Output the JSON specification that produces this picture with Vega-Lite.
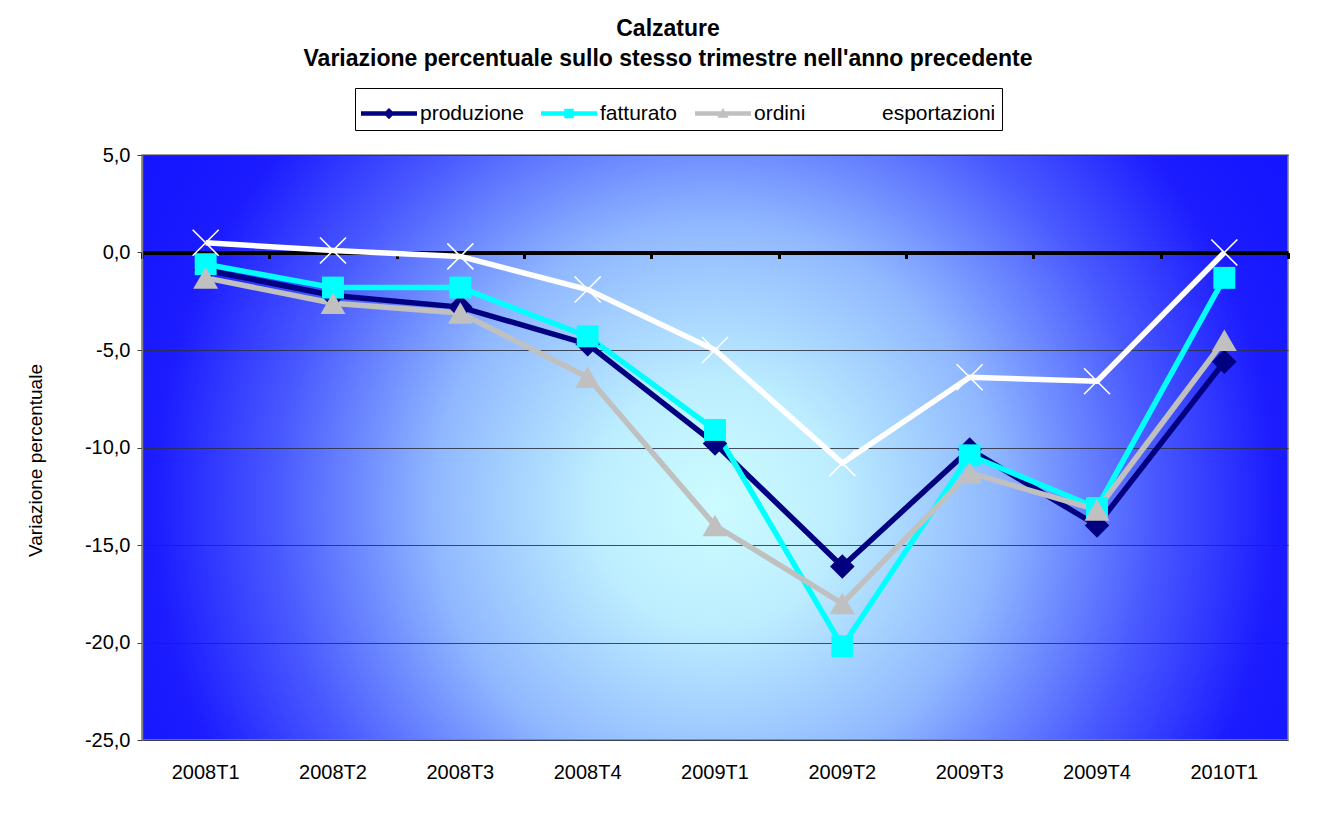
{
  "$schema": "https://vega.github.io/schema/vega-lite/v6.json",
  "width": 1146,
  "height": 585,
  "autosize": {"type": "none"},
  "padding": {"left": 142, "top": 155, "right": 33, "bottom": 78},
  "background": "white",
  "config": {
    "font": "Liberation Sans",
    "view": {"stroke": "#808080", "strokeWidth": 1.5}
  },
  "title": {
    "text": ["Calzature", "Variazione percentuale sullo stesso trimestre nell'anno precedente"],
    "fontSize": 23,
    "fontWeight": "bold",
    "color": "black",
    "anchor": "middle",
    "lineHeight": 30,
    "offset": 17,
    "dx": -47
  },
  "view": {
    "fill": {
      "gradient": "radial",
      "x1": 0.5, "y1": 0.55, "r1": 0,
      "x2": 0.5, "y2": 0.55, "r2": 0.7,
      "stops": [
        {"offset": 0, "color": "#ccfcff"},
        {"offset": 0.15, "color": "#bdeeff"},
        {"offset": 0.35, "color": "#90b8ff"},
        {"offset": 0.55, "color": "#4858ff"},
        {"offset": 0.7, "color": "#1c1cff"},
        {"offset": 1, "color": "#0a0aff"}
      ]
    },
    "stroke": "#808080"
  },
  "data": {
    "values": [
      {"periodo": "2008T1", "serie": "produzione", "valore": -0.9},
      {"periodo": "2008T2", "serie": "produzione", "valore": -2.2},
      {"periodo": "2008T3", "serie": "produzione", "valore": -2.8},
      {"periodo": "2008T4", "serie": "produzione", "valore": -4.7},
      {"periodo": "2009T1", "serie": "produzione", "valore": -9.8},
      {"periodo": "2009T2", "serie": "produzione", "valore": -16.1},
      {"periodo": "2009T3", "serie": "produzione", "valore": -10.1},
      {"periodo": "2009T4", "serie": "produzione", "valore": -14.0},
      {"periodo": "2010T1", "serie": "produzione", "valore": -5.6},
      {"periodo": "2008T1", "serie": "fatturato", "valore": -0.6},
      {"periodo": "2008T2", "serie": "fatturato", "valore": -1.8},
      {"periodo": "2008T3", "serie": "fatturato", "valore": -1.8},
      {"periodo": "2008T4", "serie": "fatturato", "valore": -4.3},
      {"periodo": "2009T1", "serie": "fatturato", "valore": -9.1},
      {"periodo": "2009T2", "serie": "fatturato", "valore": -20.2},
      {"periodo": "2009T3", "serie": "fatturato", "valore": -10.4},
      {"periodo": "2009T4", "serie": "fatturato", "valore": -13.1},
      {"periodo": "2010T1", "serie": "fatturato", "valore": -1.3},
      {"periodo": "2008T1", "serie": "ordini", "valore": -1.3},
      {"periodo": "2008T2", "serie": "ordini", "valore": -2.6},
      {"periodo": "2008T3", "serie": "ordini", "valore": -3.1},
      {"periodo": "2008T4", "serie": "ordini", "valore": -6.4},
      {"periodo": "2009T1", "serie": "ordini", "valore": -14.0},
      {"periodo": "2009T2", "serie": "ordini", "valore": -18.0},
      {"periodo": "2009T3", "serie": "ordini", "valore": -11.3},
      {"periodo": "2009T4", "serie": "ordini", "valore": -13.2},
      {"periodo": "2010T1", "serie": "ordini", "valore": -4.5},
      {"periodo": "2008T1", "serie": "esportazioni", "valore": 0.5},
      {"periodo": "2008T2", "serie": "esportazioni", "valore": 0.1},
      {"periodo": "2008T3", "serie": "esportazioni", "valore": -0.2},
      {"periodo": "2008T4", "serie": "esportazioni", "valore": -1.9},
      {"periodo": "2009T1", "serie": "esportazioni", "valore": -5.0},
      {"periodo": "2009T2", "serie": "esportazioni", "valore": -10.8},
      {"periodo": "2009T3", "serie": "esportazioni", "valore": -6.4},
      {"periodo": "2009T4", "serie": "esportazioni", "valore": -6.6},
      {"periodo": "2010T1", "serie": "esportazioni", "valore": 0.0}
    ]
  },
  "encoding": {
    "y": {
      "field": "valore", "type": "quantitative",
      "scale": {"domain": [-25, 5], "nice": false, "zero": false},
      "axis": {
        "title": "Variazione percentuale", "titleFontSize": 19, "titleFontWeight": "normal",
        "titleColor": "black", "titlePadding": 39, "titleY": 305,
        "values": [-25, -20, -15, -10, -5, 0, 5],
        "labelExpr": "(datum.value < 0 ? '-' : '') + replace(format(abs(datum.value), '.1f'), '.', ',')",
        "labelFontSize": 20, "labelColor": "black", "labelPadding": 7,
        "tickSize": 5, "tickColor": "#404040", "domainColor": "#808080", "domainWidth": 1.5,
        "grid": true, "gridColor": "#2a3040", "gridWidth": 1, "gridOpacity": 0.85
      }
    },
    "color": {
      "field": "serie", "type": "nominal",
      "scale": {
        "domain": ["produzione", "fatturato", "ordini", "esportazioni"],
        "range": ["#000080", "#00ffff", "#c0c0c0", "#ffffff"]
      },
      "legend": {
        "orient": "none", "legendX": 213, "legendY": -67,
        "direction": "horizontal", "title": null,
        "strokeColor": "black", "fillColor": "white", "padding": 6,
        "labelFontSize": 21, "labelColor": "black", "labelOffset": 3,
        "columnPadding": 17, "symbolSize": 3136, "symbolType": "square",
        "encode": {
          "labels": {"update": {"dy": {"value": -8}}},
          "symbols": {
            "update": {
              "shape": {"signal": "datum.value === 'produzione' ? 'M-1,-0.38H1V-0.22H-1Z M0,-0.5L0.2,-0.3L0,-0.1L-0.2,-0.3Z' : datum.value === 'fatturato' ? 'M-1,-0.38H1V-0.22H-1Z M-0.17,-0.47H0.17V-0.13H-0.17Z' : datum.value === 'ordini' ? 'M-1,-0.38H1V-0.22H-1Z M0,-0.5L0.2,-0.15H-0.2Z' : 'M-1,-0.38H1V-0.22H-1Z'"},
              "fill": {"signal": "scale('color', datum.value)"},
              "stroke": {"value": "transparent"},
              "strokeWidth": {"value": 0},
              "size": {"value": 3136},
              "opacity": {"value": 1}
            }
          }
        }
      }
    }
  },
  "resolve": {"axis": {"x": "independent"}},
  "layer": [
    {
      "mark": {"type": "line", "strokeWidth": 5.5},
      "encoding": {
        "x": {
          "field": "periodo", "type": "nominal", "bandPosition": 0.5,
          "sort": ["2008T1","2008T2","2008T3","2008T4","2009T1","2009T2","2009T3","2009T4","2010T1"],
          "scale": {"type": "band", "paddingInner": 0, "paddingOuter": 0},
          "axis": {
            "orient": "bottom", "title": null, "domain": false, "ticks": false,
            "labelAngle": 0, "labelFontSize": 20, "labelColor": "black",
            "labelPadding": 22, "grid": false
          }
        },
        "order": {"field": "serie"}
      }
    },
    {
      "transform": [{"filter": "datum.serie === 'produzione'"}],
      "mark": {"type": "point", "filled": true, "opacity": 1, "shape": "diamond", "size": 600},
      "encoding": {
        "x": {
          "field": "periodo", "type": "nominal", "bandPosition": 0.5,
          "sort": ["2008T1","2008T2","2008T3","2008T4","2009T1","2009T2","2009T3","2009T4","2010T1"],
          "axis": {
            "orient": "top", "offset": -97.5, "title": null, "labels": false,
            "domain": true, "domainColor": "black", "domainWidth": 4,
            "ticks": true, "tickBand": "extent", "tickSize": -6, "tickColor": "black", "tickWidth": 3,
            "grid": false
          }
        }
      }
    },
    {
      "transform": [{"filter": "datum.serie === 'fatturato'"}],
      "mark": {"type": "point", "filled": true, "opacity": 1, "shape": "square", "size": 480},
      "encoding": {
        "x": {
          "field": "periodo", "type": "nominal", "bandPosition": 0.5,
          "sort": ["2008T1","2008T2","2008T3","2008T4","2009T1","2009T2","2009T3","2009T4","2010T1"],
          "axis": null
        }
      }
    },
    {
      "transform": [{"filter": "datum.serie === 'ordini'"}],
      "mark": {"type": "point", "filled": true, "opacity": 1, "shape": "triangle-up", "size": 620},
      "encoding": {
        "x": {
          "field": "periodo", "type": "nominal", "bandPosition": 0.5,
          "sort": ["2008T1","2008T2","2008T3","2008T4","2009T1","2009T2","2009T3","2009T4","2010T1"],
          "axis": null
        }
      }
    },
    {
      "transform": [{"filter": "datum.serie === 'esportazioni'"}],
      "mark": {"type": "point", "filled": false, "shape": "M-1,-1L1,1M-1,1L1,-1", "size": 676, "strokeWidth": 1.6, "opacity": 1},
      "encoding": {
        "x": {
          "field": "periodo", "type": "nominal", "bandPosition": 0.5,
          "sort": ["2008T1","2008T2","2008T3","2008T4","2009T1","2009T2","2009T3","2009T4","2010T1"],
          "axis": null
        }
      }
    }
  ]
}
